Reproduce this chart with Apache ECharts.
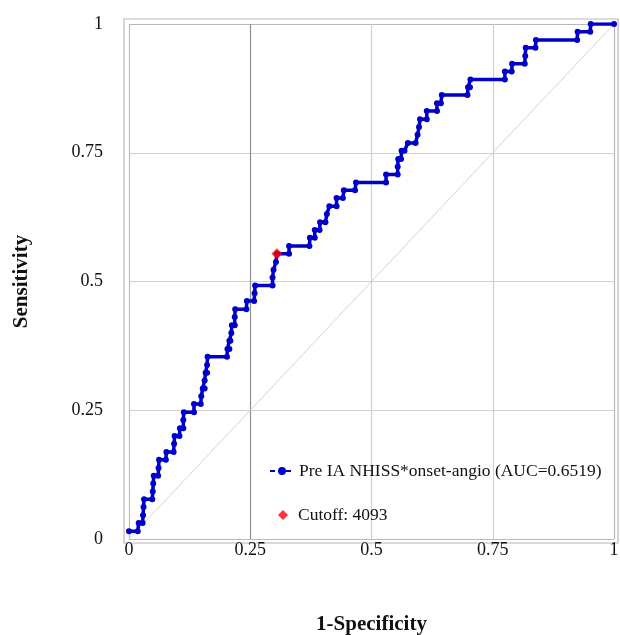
<!DOCTYPE html>
<html>
<head>
<meta charset="utf-8">
<script src="https://cdn.jsdelivr.net/npm/echarts@6/dist/echarts.min.js"></script>
<style>
html,body{margin:0;padding:0;background:#fff;}
#chart{width:620px;height:635px;}
</style>
</head>
<body>
<div id="chart"></div>
<script>
// ROC curve points [1-Specificity, Sensitivity]
var rocFpr = [
0.000,0.018,0.020,0.028,0.029,0.030,0.031,0.048,0.049,0.050,0.051,0.060,0.061,0.062,0.076,0.077,0.092,0.093,0.094,0.104,
0.105,0.112,0.112,0.113,0.134,0.134,0.148,0.149,0.152,0.156,0.156,0.158,0.161,0.161,0.162,0.202,0.203,0.207,0.207,0.209,
0.211,0.212,0.218,0.218,0.219,0.242,0.243,0.258,0.259,0.260,0.296,0.296,0.298,0.303,0.305,0.330,0.330,0.372,0.373,0.383,
0.383,0.393,0.394,0.405,0.408,0.413,0.428,0.428,0.441,0.443,0.466,0.468,0.530,0.530,0.554,0.554,0.555,0.561,0.562,0.568,
0.575,0.591,0.595,0.598,0.600,0.614,0.614,0.635,0.635,0.643,0.645,0.698,0.699,0.703,0.704,0.775,0.775,0.789,0.790,0.816,
0.817,0.818,0.838,0.839,0.924,0.925,0.951,0.952,1.000
];
var rocTpr = [
0.015,0.015,0.031,0.031,0.046,0.062,0.077,0.077,0.092,0.108,0.123,0.123,0.138,0.154,0.154,0.169,0.169,0.185,0.200,0.200,
0.215,0.215,0.231,0.246,0.246,0.262,0.262,0.277,0.292,0.292,0.308,0.323,0.323,0.338,0.354,0.354,0.369,0.369,0.385,0.385,
0.400,0.415,0.415,0.431,0.446,0.446,0.462,0.462,0.477,0.492,0.492,0.508,0.523,0.538,0.554,0.554,0.569,0.569,0.585,0.585,
0.600,0.600,0.615,0.615,0.631,0.646,0.646,0.662,0.662,0.677,0.677,0.692,0.692,0.708,0.708,0.723,0.738,0.738,0.754,0.754,
0.769,0.769,0.785,0.800,0.815,0.815,0.831,0.831,0.846,0.846,0.862,0.862,0.877,0.877,0.892,0.892,0.908,0.908,0.923,0.923,
0.938,0.954,0.954,0.969,0.969,0.985,0.985,1.000,1.000
];
var cutoffPoint = [0.305, 0.554];
var diagonal = [[0, 0], [1, 1]];
var xTicks = [0, 0.25, 0.5, 0.75, 1];
var yTicks = [0, 0.25, 0.5, 0.75, 1];
var seriesName = 'Pre IA NHISS*onset-angio (AUC=0.6519)';
var cutoffName = 'Cutoff: 4093';

var rocData = rocFpr.map(function (x, i) { return [x, rocTpr[i]]; });

function fmt(v) {
  return xTicks.indexOf(v) >= 0 ? String(v) : '';
}

var chart = echarts.init(document.getElementById('chart'), null, {renderer: 'canvas'});
var font = 'Liberation Serif, Times New Roman, serif';
var legendText = {fontFamily: font, fontSize: 17.5, color: '#111'};
chart.setOption({
  backgroundColor: '#ffffff',
  animation: false,
  textStyle: {fontFamily: font},
  grid: {left: 129, right: 6, top: 24, bottom: 96, show: false, containLabel: false, outerBoundsMode: 'none'},
  graphic: [{
    type: 'rect',
    shape: {x: 124, y: 19, width: 494, height: 524},
    style: {fill: 'none', stroke: '#b8b8b8', lineWidth: 1.2},
    silent: true,
    z: 0
  }],
  legend: [{
    orient: 'vertical',
    left: 264,
    top: 457,
    itemWidth: 24,
    itemHeight: 10,
    textStyle: legendText,
    data: [{name: seriesName, lineStyle: {type: [5, 3], width: 2}}]
  }, {
    orient: 'vertical',
    left: 273,
    top: 501,
    itemWidth: 10,
    itemHeight: 10,
    textStyle: {fontFamily: font, fontSize: 17.5, color: '#111', padding: [0, 0, 0, 5]},
    data: [cutoffName]
  }],
  xAxis: {
    type: 'value',
    min: 0, max: 1, interval: 0.25,
    name: '1-Specificity',
    nameLocation: 'middle',
    nameGap: 75,
    nameTextStyle: {fontFamily: font, fontSize: 21, fontWeight: 'bold', color: '#111'},
    axisLine: {show: true, lineStyle: {color: '#bbbbbb'}},
    axisTick: {show: false},
    axisLabel: {fontFamily: font, fontSize: 18, color: '#111', margin: 2, formatter: fmt},
    splitLine: {show: true, lineStyle: {color: ['#d0d0d0', '#8f8f8f', '#d0d0d0', '#d0d0d0', '#b8b8b8'], width: 1.2}}
  },
  yAxis: {
    type: 'value',
    min: 0, max: 1, interval: 0.25,
    name: 'Sensitivity',
    nameLocation: 'middle',
    nameGap: 97,
    nameRotate: 90,
    nameTextStyle: {fontFamily: font, fontSize: 21, fontWeight: 'bold', color: '#111'},
    axisLine: {show: true, lineStyle: {color: '#bbbbbb'}},
    axisTick: {show: false},
    axisLabel: {fontFamily: font, fontSize: 18, color: '#111', margin: 26, formatter: fmt},
    splitLine: {show: true, lineStyle: {color: ['#d0d0d0', '#d0d0d0', '#d0d0d0', '#d0d0d0', '#b8b8b8'], width: 1.2}}
  },
  series: [
    {
      type: 'line',
      name: 'diag',
      data: diagonal,
      showSymbol: false,
      silent: true,
      lineStyle: {color: '#d4d4d4', width: 1},
      z: 1
    },
    {
      type: 'line',
      name: seriesName,
      data: rocData,
      symbol: 'circle',
      symbolSize: 6,
      showAllSymbol: true,
      color: '#0000c8',
      itemStyle: {color: '#0000c8'},
      lineStyle: {color: '#0000c8', width: 3.5},
      z: 3
    },
    {
      type: 'scatter',
      name: cutoffName,
      data: [cutoffPoint],
      symbol: 'diamond',
      symbolSize: 11,
      itemStyle: {color: '#ff0000'},
      z: 5
    }
  ]
});
</script>
</body>
</html>
